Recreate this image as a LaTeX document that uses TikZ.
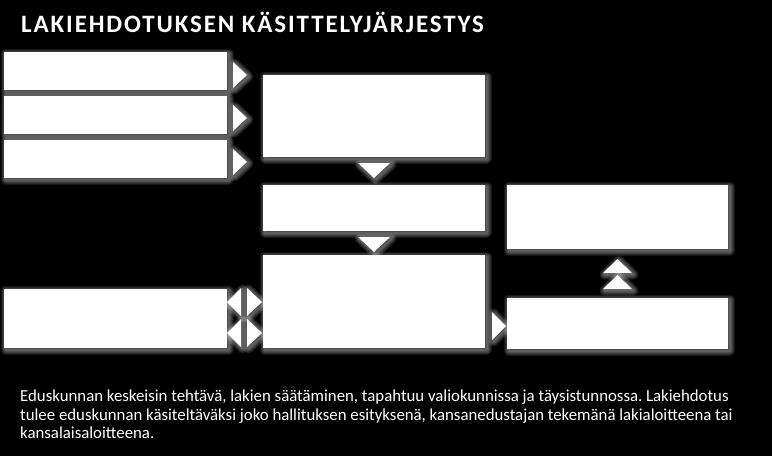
\documentclass[tikz,border=0pt]{standalone}
\usepackage{fontspec}
\setmainfont{Carlito}
\newfontfamily\titlefont[LetterSpace=7.5]{Carlito}
\newfontfamily\capfont{Carlito}
\frenchspacing
\tikzset{
  glowlayer/.style={preaction={draw=white, line join=round, draw opacity=0.09, fill opacity=0, line width=#1, transform canvas={shift={(1.5pt,-1.5pt)}}}},
  glow/.style={glowlayer=10pt, glowlayer=8pt, glowlayer=6pt, glowlayer=4pt, glowlayer=2pt},
  stepbox/.style={fill=white, draw=none, glow},
  chev/.style={fill=white, draw=none, glow},
  captext/.style={anchor=base west, inner sep=0, text=white, font=\capfont\fontsize{16.8}{18}\selectfont},
}
\begin{document}
\begin{tikzpicture}[x=1pt,y=-1pt]
\fill[black] (0,0) rectangle (772,456);
\useasboundingbox (0,0) rectangle (772,456);
% title
\node[anchor=base west, inner sep=0, text=white, font=\titlefont\bfseries\fontsize{25}{29}\selectfont] (title) at (21,32) {LAKIEHDOTUKSEN KÄSITTELYJÄRJESTYS};
% boxes
\path[stepbox] (4,52) rectangle (227,90) coordinate (L1);
\path[stepbox] (4,96) rectangle (227,134) coordinate (L2);
\path[stepbox] (4,140) rectangle (227,178) coordinate (L3);
\path[stepbox] (4,289) rectangle (227,348) coordinate (L4);
\path[stepbox] (263,75) rectangle (485,157) coordinate (M1);
\path[stepbox] (263,185) rectangle (485,231) coordinate (M2);
\path[stepbox] (263,255) rectangle (485,348) coordinate (M3);
\path[stepbox] (507,185) rectangle (728,249) coordinate (R1);
\path[stepbox] (507,298) rectangle (728,349) coordinate (R2);
% right chevrons from left boxes
\foreach \yc in {75,118,162}{
  \path[chev] (233,\yc-13) -- (247,\yc) -- (233,\yc+13) -- cycle;
}
% double arrows between L4 and M3
\foreach \yc in {302,333}{
  \path[chev] (241,\yc-14) -- (227,\yc) -- (241,\yc+14) -- cycle;
  \path[chev] (247,\yc-14) -- (262,\yc) -- (247,\yc+14) -- cycle;
}
% down chevrons
\path[chev] (358,163) -- (390,163) -- (374,178) -- cycle;
\path[chev] (358,237) -- (390,237) -- (374,252) -- cycle;
% up chevrons
\path[chev] (603,273) -- (632,273) -- (617.5,259) -- cycle;
\path[chev] (603,289) -- (632,289) -- (617.5,275) -- cycle;
% right chevron to R2
\path[chev] (492,312) -- (506,326) -- (492,340) -- cycle;
% caption
\node[captext] (cap1) at (20,401.5) {Eduskunnan keskeisin tehtävä, lakien säätäminen, tapahtuu valiokunnissa ja täysistunnossa. Lakiehdotus};
\node[captext] (cap2) at (20,420) {tulee eduskunnan käsiteltäväksi joko hallituksen esityksenä, kansanedustajan tekemänä lakialoitteena tai};
\node[captext] (cap3) at (20,438.5) {kansalaisaloitteena.};
\end{tikzpicture}
\end{document}
